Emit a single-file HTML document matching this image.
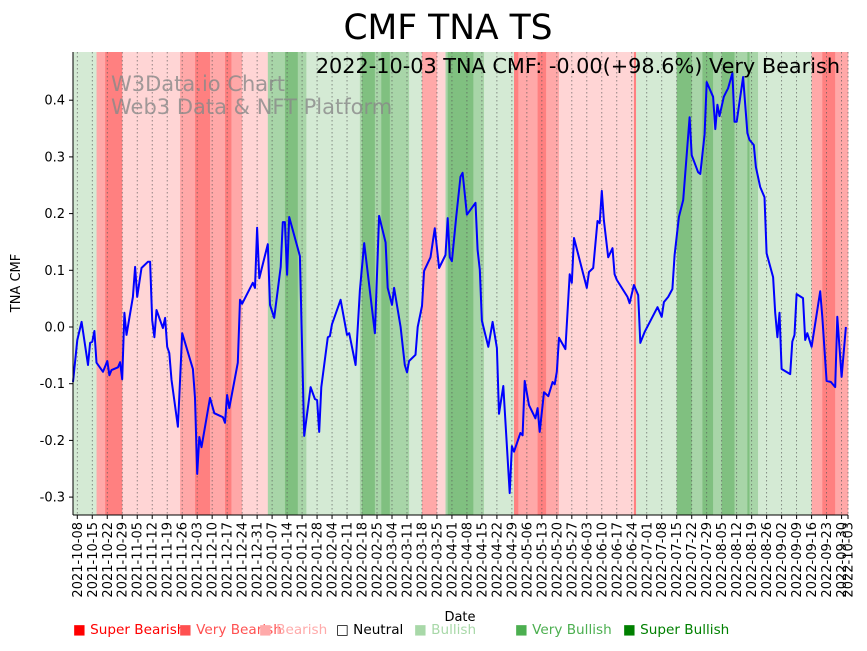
<!DOCTYPE html>
<html><head><meta charset="utf-8">
<style>
body{margin:0;background:#fff;width:867px;height:646px;overflow:hidden;font-family:"Liberation Sans","DejaVu Sans",sans-serif;}
svg text{font-family:"DejaVu Sans","Liberation Sans",sans-serif;}
</style></head>
<body>
<svg id="chart" width="867" height="646" xmlns="http://www.w3.org/2000/svg">
<g id="bands"></g>
<g id="grid"></g>
<text x="111" y="91" font-size="21" fill="#888" fill-opacity="0.8">W3Data.io Chart</text>
<text x="111" y="114" font-size="21" fill="#888" fill-opacity="0.8">Web3 Data &amp; NFT Platform</text>
<path id="line" fill="none" stroke="#0000ff" stroke-width="2" stroke-linejoin="round"/>
<g id="axes"></g>
<text x="448" y="39" font-size="34.5" text-anchor="middle">CMF TNA TS</text>
<text x="840" y="73" font-size="20.8" text-anchor="end">2022-10-03 TNA CMF: -0.00(+98.6%) Very Bearish</text>
<text x="20" y="283" font-size="13" text-anchor="middle" transform="rotate(-90 20 283)">TNA CMF</text>
<text x="460" y="621" font-size="13" text-anchor="middle">Date</text>
<g id="legend"></g>
</svg>
<script>
const startDate = "2021-10-06";
const totalDays = 362;
const dayIdx = [0,2,4,7,8,9,10,11,14,16,17,18,21,22,23,24,25,28,29,30,32,35,36,37,38,39,42,43,44,45,46,49,51,56,57,58,59,60,64,66,70,71,72,73,77,78,79,84,85,86,87,91,92,94,97,98,99,100,101,106,108,111,113,114,115,116,119,120,121,125,128,129,132,134,136,141,143,146,147,149,150,153,155,156,157,160,161,163,164,167,169,171,174,175,176,177,179,181,182,184,188,189,190,191,194,196,198,199,201,204,205,206,209,210,211,213,216,217,218,220,222,224,225,226,227,230,232,233,234,240,241,243,245,246,247,248,250,252,253,254,259,260,262,264,265,267,273,275,276,278,280,281,283,285,288,289,292,293,295,296,299,300,301,302,304,305,306,308,309,310,313,315,316,318,319,321,323,324,327,328,329,330,331,335,336,337,338,341,342,343,345,349,350,352,354,356,357,359,361];
const cmfValues = [-0.097,-0.023,0.009,-0.067,-0.028,-0.026,-0.007,-0.063,-0.079,-0.060,-0.085,-0.076,-0.071,-0.062,-0.092,0.025,-0.014,0.053,0.106,0.053,0.104,0.115,0.115,0.012,-0.018,0.030,-0.002,0.016,-0.035,-0.046,-0.093,-0.176,-0.011,-0.074,-0.125,-0.259,-0.194,-0.212,-0.125,-0.152,-0.159,-0.169,-0.120,-0.143,-0.063,0.048,0.041,0.078,0.069,0.175,0.086,0.146,0.039,0.016,0.106,0.185,0.185,0.092,0.194,0.125,-0.192,-0.106,-0.127,-0.129,-0.185,-0.106,-0.018,-0.016,0.005,0.048,-0.014,-0.011,-0.067,0.065,0.148,-0.011,0.196,0.149,0.069,0.039,0.069,0.000,-0.067,-0.080,-0.060,-0.049,0.000,0.037,0.099,0.123,0.174,0.104,0.127,0.192,0.123,0.116,0.194,0.265,0.272,0.198,0.219,0.136,0.101,0.011,-0.035,0.009,-0.037,-0.153,-0.104,-0.293,-0.210,-0.220,-0.187,-0.191,-0.095,-0.138,-0.161,-0.143,-0.185,-0.115,-0.122,-0.097,-0.101,-0.079,-0.019,-0.039,0.093,0.078,0.157,0.069,0.097,0.104,0.187,0.183,0.240,0.188,0.123,0.139,0.093,0.083,0.053,0.042,0.074,0.056,-0.028,-0.009,0.035,0.018,0.044,0.053,0.067,0.127,0.194,0.224,0.370,0.303,0.273,0.270,0.340,0.432,0.406,0.349,0.392,0.372,0.406,0.414,0.421,0.448,0.362,0.362,0.441,0.342,0.330,0.321,0.282,0.247,0.229,0.130,0.088,0.025,-0.018,0.025,-0.074,-0.083,-0.026,-0.014,0.058,0.051,-0.023,-0.011,-0.035,0.063,0.018,-0.095,-0.097,-0.106,0.018,-0.088,0.000];
const bandStarts = [0,11,15,23,50,57,64,71,74,79,91,99,105,109,134,135,141,144,148,157,163,170,174,175,187,192,206,208,217,221,227,262,263,282,289,294,299,303,309,315,316,320,345,350,356];
const bandCats = ["bull","vbear","sbear","bear","vbear","sbear","vbear","sbear","vbear","bear","vbull","sbull","vbull","bull","vbull","sbull","vbull","sbull","vbull","bull","vbear","bear","vbull","sbull","vbull","bull","sbear","vbear","sbear","vbear","bear","sbear","bull","sbull","vbull","sbull","vbull","sbull","vbull","sbull","vbull","bull","vbear","sbear","vbear"];
const yTicks = [-0.3,-0.2,-0.1,0.0,0.1,0.2,0.3,0.4];
const legendLabels = ["Super Bearish","Very Bearish","Bearish","Neutral","Bullish","Very Bullish","Super Bullish"];

const X0=73, X1=848, YT=52, YB=515;
const xs = d => X0 + d*(X1-X0)/totalDays;
const ys = v => 327 - v*567;
const NS="http://www.w3.org/2000/svg";
function mk(tag, attrs, parent){const e=document.createElementNS(NS,tag);for(const k in attrs)e.setAttribute(k,attrs[k]);parent.appendChild(e);return e;}
const bandFill={sbear:"#ff8080",vbear:"#ffa8a8",bear:"#ffd5d5",bull:"#d4ead4",vbull:"#a8d5a8",sbull:"#80c080"};
const bandsG=document.getElementById('bands');
for(let i=0;i<bandStarts.length;i++){
  const s=bandStarts[i], e=i+1<bandStarts.length?bandStarts[i+1]:totalDays;
  const r=mk('rect',{x:xs(s),y:YT,width:xs(e)-xs(s)+0.3,height:YB-YT,fill:bandFill[bandCats[i]]},bandsG);
  
  
}
const base=new Date(startDate+"T00:00:00Z");
const tickDays=[];
for(let d=2; d<=totalDays; d+=7) tickDays.push(d);
tickDays.push(totalDays);
const gridG=document.getElementById('grid'), axesG=document.getElementById('axes');
function fmt(d){const t=new Date(base.getTime()+d*86400000);return t.toISOString().slice(0,10);}
tickDays.forEach(d=>{
  const x=xs(d);
  const gl=mk('line',{x1:x,x2:x,y1:YT,y2:YB,stroke:"#555",'stroke-width':0.8,'stroke-dasharray':"1.5,2.5",'stroke-opacity':0.8},gridG);
  
  
  mk('line',{x1:x,x2:x,y1:YB,y2:YB+4,stroke:"#000",'stroke-width':1},axesG);
  const t=mk('text',{x:0,y:0,'font-size':13,'text-anchor':'end',transform:`translate(${x+4.5},${YB+7}) rotate(-90)`},axesG);
  t.textContent=fmt(d);
  
  
});
yTicks.forEach(v=>{
  const y=ys(v);
  mk('line',{x1:X0-4,x2:X0,y1:y,y2:y,stroke:"#000",'stroke-width':1},axesG);
  const t=mk('text',{x:X0-8,y:y+4.5,'font-size':13,'text-anchor':'end'},axesG);
  t.textContent=v.toFixed(1);
  
  
});
mk('line',{x1:X0,x2:X0,y1:YT,y2:YB,stroke:"#000",'stroke-width':1},axesG);
mk('line',{x1:X0,x2:X1,y1:YB,y2:YB,stroke:"#000",'stroke-width':1},axesG);
document.getElementById('line').setAttribute('d',dayIdx.map((d,i)=>(i?'L':'M')+xs(d).toFixed(1)+','+ys(cmfValues[i]).toFixed(1)).join(''));
const legColors=["#ff0000","#ff5050","#ffaaaa","#000000","#a8d8a8","#4caf50","#008000"];
const legX=[73,179,259,336,414,515,623];
const legG=document.getElementById('legend');
legendLabels.forEach((l,i)=>{
  const t=mk('text',{x:legX[i],y:634,'font-size':13.6,fill:legColors[i]},legG);
  t.textContent=(i===3?"□ ":"■ ")+l;
  
  
});
</script>
</body></html>
